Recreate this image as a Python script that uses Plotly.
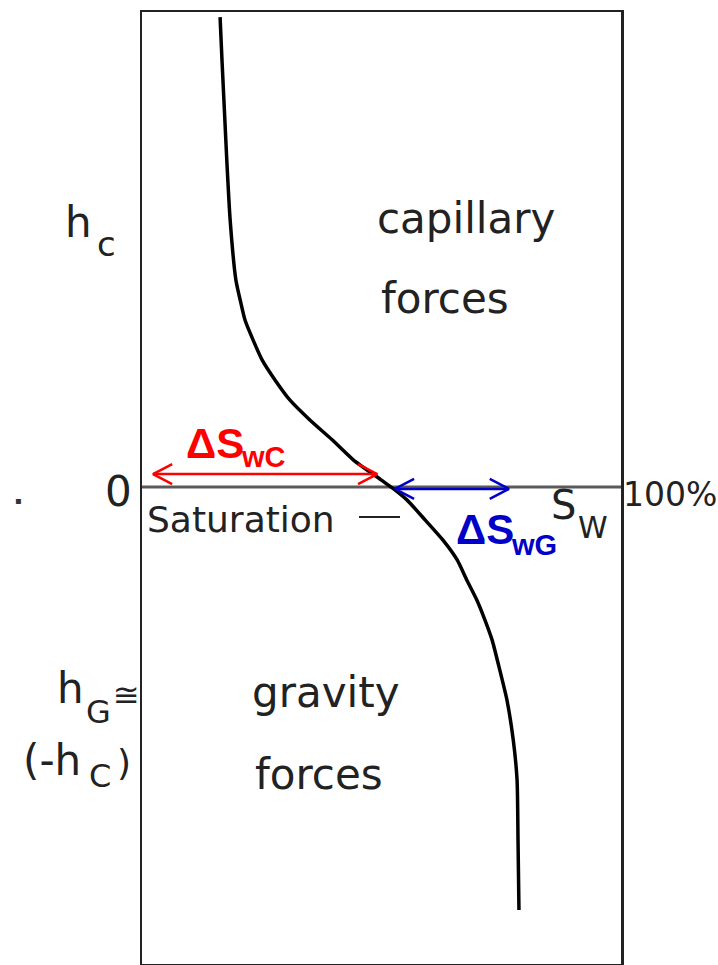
import plotly.graph_objects as go

# Water saturation profile (percent) versus height above the free-water level
saturation = [16.3, 16.7, 17.1, 17.7, 18.4, 19.6, 20.5, 21.5, 23.2, 25.1, 27.8,
              30.9, 35.1, 39.7, 44.1, 49.9, 52.8, 55.3, 59.1, 62.8, 65.8, 67.8,
              69.9, 71.6, 73.1, 74.7, 76.2, 77.5, 78.3, 78.5, 78.7]
height = [0.985, 0.895, 0.811, 0.686, 0.560, 0.434, 0.392, 0.350, 0.308, 0.266,
          0.224, 0.182, 0.140, 0.099, 0.057, 0.015, -0.006, -0.027, -0.069,
          -0.111, -0.153, -0.195, -0.237, -0.279, -0.321, -0.384, -0.447,
          -0.530, -0.614, -0.740, -0.887]

# Saturation changes driven by capillary and by gravity forces
dsw_capillary = [2.3, 49.1]
dsw_capillary_h = 0.027
dsw_gravity = [52.8, 76.6]
dsw_gravity_h = -0.004

x_range = [0, 100]
y_range = [-1.0, 0.9958]

W, H = 718, 965
L, R, T, B = 142, 97, 12, 1
PW, PH = W - L - R, H - T - B

def xp(px):
    return (px - L) / PW

def yp(py):
    return (H - B - py) / PH

INK = "#222222"
LETTER = "DejaVu Sans"
BOLD = "Liberation Sans"

fig = go.Figure()

# horizontal zero line (0 .. 100 %)
fig.add_trace(go.Scatter(x=x_range, y=[0, 0], mode="lines",
                         line=dict(color="#5a5a5a", width=3),
                         hoverinfo="skip", showlegend=False))

# saturation curve
fig.add_trace(go.Scatter(x=saturation, y=height, mode="lines",
                         line=dict(color="#000000", width=3.5, shape="spline", smoothing=0.6),
                         hoverinfo="skip", showlegend=False))

# double-headed arrows with open heads
ARM_DX = 4.0
ARM_DY = 0.021

def double_arrow(xs, h, color):
    a, b = xs
    px = [a, b, None,
          a + ARM_DX, a, a + ARM_DX, None,
          b - ARM_DX, b, b - ARM_DX]
    py = [h, h, None,
          h + ARM_DY, h, h - ARM_DY, None,
          h + ARM_DY, h, h - ARM_DY]
    fig.add_trace(go.Scatter(x=px, y=py, mode="lines",
                             line=dict(color=color, width=2.5),
                             hoverinfo="skip", showlegend=False))

double_arrow(dsw_capillary, dsw_capillary_h, "#ff0000")
double_arrow(dsw_gravity, dsw_gravity_h, "#0000c8")

annotations = []

def label(text, left, baseline, size, family=LETTER, color=INK, weight=None):
    font = dict(family=family, size=size, color=color)
    if weight:
        font["weight"] = weight
    annotations.append(dict(
        text=text, xref="paper", yref="paper",
        x=xp(left), y=yp(baseline - 0.345 * size),
        xanchor="left", yanchor="middle", showarrow=False,
        font=font, borderpad=0))

label("capillary", 376, 233, 42)
label("forces", 380, 313, 42)
label("gravity", 251, 707, 42)
label("forces", 254, 789, 42)
label("Saturation", 146, 532, 36)
label("0", 104, 506, 42)
label("100%", 622, 506, 33)
label("S", 550, 519, 40)
label("W", 577, 538, 30)
label("h", 64, 237, 42)
label("c", 96, 256, 34)
label("h", 56, 703, 42)
label("G", 85, 723, 32)
label("≅", 112, 706, 32)
label("(-h", 22, 775, 42)
label("C", 88, 787, 32)
label(")", 116, 775, 36)
label("▪", 14, 504, 10, color="#333333")

label("ΔS", 185, 458, 42, family=BOLD, color="#ff0000", weight=700)
label("wC", 240, 467, 29, family=BOLD, color="#ff0000", weight=700)
label("ΔS", 455, 544, 42, family=BOLD, color="#0000c8", weight=700)
label("wG", 510, 555, 29, family=BOLD, color="#0000c8", weight=700)

fig.update_layout(
    width=W, height=H, autosize=False,
    margin=dict(l=L, r=R, t=T, b=B, pad=0),
    paper_bgcolor="white", plot_bgcolor="white",
    annotations=annotations,
    shapes=[dict(type="line", xref="paper", yref="paper",
                 x0=xp(359), x1=xp(400), y0=yp(517), y1=yp(517),
                 line=dict(color=INK, width=2))],
    xaxis=dict(range=x_range, showgrid=False, zeroline=False, showticklabels=False,
               ticks="", showline=True, mirror=True, linecolor=INK, linewidth=2.5,
               fixedrange=True),
    yaxis=dict(range=y_range, showgrid=False, zeroline=False, showticklabels=False,
               ticks="", showline=True, mirror=True, linecolor=INK, linewidth=2.5,
               fixedrange=True),
)

fig.write_html("out.html", config=dict(displayModeBar=False, staticPlot=True))
